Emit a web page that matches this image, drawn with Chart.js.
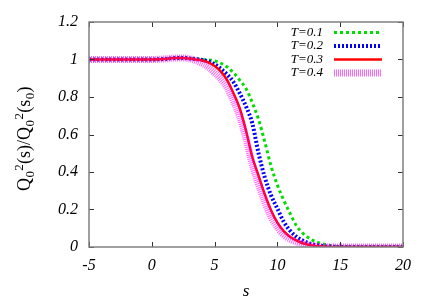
<!DOCTYPE html>
<html>
<head>
<meta charset="utf-8">
<script src="https://cdn.jsdelivr.net/npm/chart.js@4/dist/chart.umd.min.js"></script>
<style>
html,body{margin:0;padding:0;background:#fff;}
#c{display:block;}
</style>
</head>
<body>
<canvas id="c" width="436" height="305"></canvas>
<script>
// s values (x axis)
const sValues = [-5,-4.5,-4,-3.5,-3,-2.5,-2,-1.5,-1,-0.5,0,0.5,1,1.5,2,2.5,3,3.5,4,4.5,5,5.5,6,6.5,7,7.5,8,8.5,9,9.5,10,10.5,11,11.5,12,12.5,13,13.5,14,14.5,15,15.5,16,16.5,17,17.5,18,18.5,19,19.5,20];
const seriesLabels = ["T=0.1","T=0.2","T=0.3","T=0.4"];
const t01 = [1,1,1,1,1,1,1,1,1,1,1,1.001,1.003,1.006,1.008,1.008,1.006,1.003,1.0,0.998,0.993,0.98,0.96,0.93,0.89,0.845,0.77,0.68,0.56,0.43,0.33,0.25,0.18,0.115,0.075,0.048,0.03,0.018,0.01,0.005,0.002,0.001,0,0,0,0,0,0,0,0,0];
const t02 = [1,1,1,1,1,1,1,1,1,1,1,1.001,1.003,1.006,1.008,1.008,1.005,1.002,0.998,0.99,0.975,0.95,0.92,0.88,0.82,0.75,0.66,0.5,0.37,0.275,0.205,0.135,0.088,0.056,0.035,0.02,0.011,0.006,0.003,0.001,0,0,0,0,0,0,0,0,0,0,0];
const t03 = [1,1,1,1,1,1,1,1,1,1,1,1.001,1.003,1.006,1.008,1.008,1.005,1.0,0.995,0.985,0.965,0.935,0.89,0.82,0.74,0.62,0.48,0.38,0.28,0.195,0.13,0.085,0.055,0.035,0.02,0.012,0.006,0.003,0.001,0,0,0,0,0,0,0,0,0,0,0,0];
const t04 = [1,1,1,1,1,1,1,1,1,1,1,1.001,1.003,1.006,1.008,1.008,1.004,0.995,0.98,0.96,0.93,0.895,0.85,0.78,0.695,0.58,0.44,0.335,0.24,0.16,0.105,0.065,0.042,0.027,0.016,0.009,0.005,0.002,0.001,0,0,0,0,0,0,0,0,0,0,0,0];
const xTicks = [-5,0,5,10,15,20];
const yTicks = [0,0.2,0.4,0.6,0.8,1,1.2];

const toPts = arr => sValues.map((s,i)=>({x:s,y:arr[i]}));

const styles = [
  {color:'#00dd00', width:3, dash:[3,3], order:3},
  {color:'#0000ff', width:4, dash:[2,2], order:2},
  {color:'#ff0000', width:2.5, dash:[], order:1},
  {color:'rgba(255,0,255,0.6)', width:7, dash:[1,1], order:0}
];
const seriesData = [t01,t02,t03,t04];

const datasets = seriesData.map((arr,i)=>({
  label: seriesLabels[i],
  data: toPts(arr),
  borderColor: styles[i].color,
  borderWidth: styles[i].width,
  borderDash: styles[i].dash,
  pointRadius: 0,
  fill: false,
  cubicInterpolationMode: 'monotone',
  order: styles[i].order
}));

const serif = "'Liberation Serif','DejaVu Serif','Times New Roman',serif";

const decor = {
  id:'decor',
  afterDraw(chart){
    const ctx = chart.ctx;
    const a = chart.chartArea;
    const xs = chart.scales.x, ys = chart.scales.y;
    ctx.save();
    ctx.strokeStyle = '#333';
    ctx.lineWidth = 1;
    ctx.setLineDash([]);
    const tl = 5;
    xTicks.forEach(v=>{
      const px = Math.round(xs.getPixelForValue(v))+0.5;
      ctx.beginPath();
      ctx.moveTo(px,a.bottom); ctx.lineTo(px,a.bottom-tl);
      ctx.moveTo(px,a.top); ctx.lineTo(px,a.top+tl);
      ctx.stroke();
    });
    yTicks.forEach(v=>{
      const py = Math.round(ys.getPixelForValue(v))+0.5;
      ctx.beginPath();
      ctx.moveTo(a.left,py); ctx.lineTo(a.left+tl,py);
      ctx.moveTo(a.right,py); ctx.lineTo(a.right-tl,py);
      ctx.stroke();
    });
    ctx.strokeStyle = '#808080';
    ctx.lineWidth = 1.5;
    ctx.strokeRect(a.left, a.top, a.right-a.left, a.bottom-a.top);

    // legend
    ctx.font = "italic 13px " + serif;
    ctx.fillStyle = '#000';
    ctx.textAlign = 'right';
    ctx.textBaseline = 'middle';
    chart.data.datasets.forEach((ds,i)=>{
      const y = 32.5 + 13.5*i;
      ctx.fillText(ds.label, 323, y);
      ctx.strokeStyle = ds.borderColor;
      ctx.lineWidth = ds.borderWidth;
      ctx.setLineDash(ds.borderDash);
      ctx.beginPath();
      ctx.moveTo(334, y); ctx.lineTo(382, y);
      ctx.stroke();
    });
    ctx.setLineDash([]);

    // x title
    ctx.font = "italic 17px " + serif;
    ctx.textAlign = 'center';
    ctx.textBaseline = 'middle';
    ctx.fillText('s', (a.left+a.right)/2, 292);

    // y title with sub/superscripts
    const parts = [
      {t:'Q', k:'n'},{t:'0', k:'sub'},{t:'2', k:'sup'},{t:'(s)/Q', k:'n'},
      {t:'0', k:'sub'},{t:'2', k:'sup'},{t:'(s', k:'n'},{t:'0', k:'sub'},{t:')', k:'n'}
    ];
    const nf = "18px " + serif, sf = "13px " + serif;
    let total = 0;
    parts.forEach(p=>{ ctx.font = p.k==='n'?nf:sf; p.w = ctx.measureText(p.t).width + (p.k==='n'?0.5:0.3); total += p.w; });
    ctx.translate(24, (a.top+a.bottom)/2 + 4);
    ctx.rotate(-Math.PI/2);
    ctx.textAlign = 'left';
    ctx.textBaseline = 'alphabetic';
    let x = -total/2;
    parts.forEach(p=>{
      ctx.font = p.k==='n'?nf:sf;
      const dy = p.k==='sub'?4:(p.k==='sup'?-7:0);
      ctx.fillText(p.t, x, 6+dy);
      x += p.w;
    });
    ctx.restore();
  }
};

new Chart(document.getElementById('c'), {
  type:'line',
  data:{datasets},
  options:{
    responsive:false,
    devicePixelRatio:1,
    animation:false,
    layout:{padding:{left:0,right:33,top:22,bottom:0}},
    plugins:{legend:{display:false},tooltip:{enabled:false}},
    scales:{
      x:{
        type:'linear', min:-5, max:20,
        afterBuildTicks: s => { s.ticks = xTicks.map(v=>({value:v})); },
        grid:{display:false, drawTicks:false},
        border:{display:false},
        ticks:{font:{family:serif, size:16, style:'italic'}, color:'#000', padding:9, maxRotation:0,
               callback:v=>String(v)},
        afterFit: s => { s.height = 58; }
      },
      y:{
        min:0, max:1.2,
        afterBuildTicks: s => { s.ticks = yTicks.map(v=>({value:v})); },
        grid:{display:false, drawTicks:false},
        border:{display:false},
        ticks:{font:{family:serif, size:16, style:'italic'}, color:'#000', padding:11,
               callback:v=>String(Math.round(v*10)/10)},
        afterFit: s => { s.width = 89; }
      }
    }
  },
  plugins:[decor]
});
</script>
</body>
</html>
